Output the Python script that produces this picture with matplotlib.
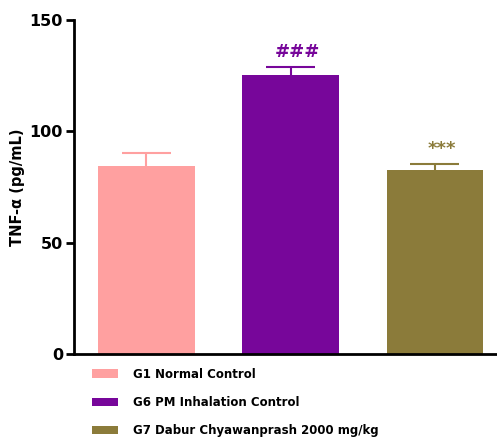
import matplotlib.pyplot as plt
from matplotlib.patches import Patch

groups = ["G1 Normal Control", "G6 PM Inhalation Control", "G7 Dabur Chyawanprash 2000 mg/kg"]
means = [84.5, 125.5, 82.5]
errors = [6.0, 3.5, 3.0]
marks = ["", "###", "***"]
colors = ["#FFA0A0", "#77069A", "#8B7B3A"]
yticks = [0, 50, 100, 150]

fig = plt.figure(figsize=(4.97, 4.37), dpi=100)
ax = fig.add_axes([0.149, 0.19, 0.851, 0.764])

x = list(range(len(groups)))
ax.bar(x, means, width=0.67, color=colors, zorder=2)
cap = 0.17
for xi, m, e, c in zip(x, means, errors, colors):
    # upper-only error bar with a cap
    ax.vlines(xi, m, m + e, color=c, linewidth=1.5, zorder=1)
    ax.hlines(m + e, xi - cap, xi + cap, color=c, linewidth=1.5, zorder=1)
    if marks[xi]:
        ax.text(xi + 0.05, m + e + 2.5, marks[xi], color=c, ha="center", va="bottom",
                fontsize=13, fontweight="bold")

ax.set_xlim(-0.5, 2.43)
ax.set_ylim(0, 150)
ax.set_yticks(yticks)
ax.set_xticks([])
ax.tick_params(axis="y", length=6, width=2, labelsize=11.5, pad=2)
for lab in ax.get_yticklabels():
    lab.set_fontweight("bold")
for side in ["top", "right"]:
    ax.spines[side].set_visible(False)
for side in ["left", "bottom"]:
    ax.spines[side].set_linewidth(2)
ax.set_ylabel("TNF-α (pg/mL)", fontsize=10.5, fontweight="bold", labelpad=3)

handles = [Patch(facecolor=c, edgecolor="none") for c in colors]
fig.legend(handles, groups, loc="upper left", bbox_to_anchor=(0.174, 0.172), frameon=False,
           prop={"weight": "bold", "size": 8.5}, handlelength=2.2, handleheight=0.7,
           labelspacing=1.3, handletextpad=1.2, borderpad=0)

fig.savefig("out.png", dpi=100)
